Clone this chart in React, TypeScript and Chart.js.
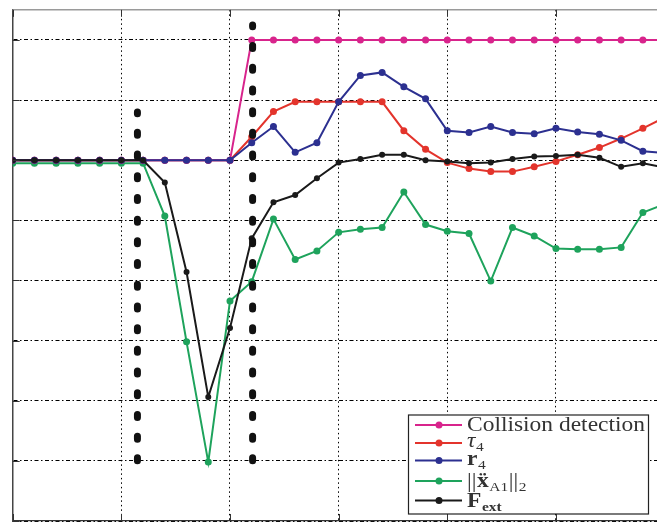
import { useEffect, useRef } from "react";
import { Chart, registerables } from "chart.js";

Chart.register(...registerables);

// ---- data ----
const sampleIndex = [0, 1, 2, 3, 4, 5, 6, 7, 8, 9, 10, 11, 12, 13, 14, 15, 16, 17, 18, 19, 20, 21, 22, 23, 24, 25, 26, 27, 28, 29, 30];

const collisionDetection = [6, 6, 6, 6, 6, 6, 6, 6, 6, 6, 6, 8, 8, 8, 8, 8, 8, 8, 8, 8, 8, 8, 8, 8, 8, 8, 8, 8, 8, 8, 8];
const tau4 = [6, 6, 6, 6, 6, 6, 6, 6, 6, 6, 6, 6.39, 6.81, 6.97, 6.97, 6.97, 6.97, 6.97, 6.49, 6.18, 5.96, 5.86, 5.81, 5.81, 5.89, 5.98, 6.09, 6.21, 6.36, 6.53, 6.71];
const r4 = [6, 6, 6, 6, 6, 6, 6, 6, 6, 6, 6, 6.29, 6.56, 6.13, 6.29, 6.97, 7.41, 7.46, 7.22, 7.02, 6.49, 6.46, 6.56, 6.46, 6.44, 6.53, 6.47, 6.43, 6.33, 6.15, 6.12];
const accelNormA1 = [5.95, 5.95, 5.95, 5.95, 5.95, 5.95, 5.95, 5.07, 2.98, 0.98, 3.66, 3.98, 5.02, 4.35, 4.49, 4.8, 4.85, 4.88, 5.47, 4.93, 4.82, 4.78, 3.99, 4.88, 4.74, 4.53, 4.52, 4.52, 4.55, 5.13, 5.27];
const fExt = [6, 6, 6, 6, 6, 6, 6, 5.63, 4.14, 2.06, 3.21, 4.7, 5.3, 5.42, 5.7, 5.96, 6.02, 6.09, 6.09, 6.0, 5.98, 5.95, 5.96, 6.02, 6.06, 6.07, 6.09, 6.04, 5.89, 5.95, 5.88];

// thick dotted event markers: x position, bottom and top value
const eventMarkerX = [5.74, 11.04];
const eventMarkerBottom = [1.0, 1.0];
const eventMarkerTop = [6.8, 8.25];

const xMin = 0;
const xMax = 30;
const xStep = 5;
const yMin = 0;
const yMax = 8.5;
const yStep = 1;

const seriesLabels = ["Collision detection", "τ4", "r4", "||ẍA1||2", "Fext"];
const seriesColors = ["#d8248c", "#e3342c", "#2c3090", "#1ea35c", "#1a1a1a"];

type Part = { t: string; sub?: boolean; bold?: boolean; italic?: boolean };
const legendParts: Part[][] = [
  [{ t: "Collision detection" }],
  [{ t: "τ", italic: true }, { t: "4", sub: true }],
  [{ t: "r", bold: true }, { t: "4", sub: true }],
  [{ t: "||" }, { t: "ẍ", bold: true }, { t: "A1", sub: true }, { t: "||" }, { t: "2", sub: true }],
  [{ t: "F", bold: true }, { t: "ext", sub: true, bold: true }],
];

const pts = (ys: number[]) => sampleIndex.map((x, i) => ({ x, y: ys[i] }));

const framePlugin = {
  id: "frame",
  beforeDraw(chart: any) {
    const { ctx, width, height } = chart;
    ctx.save();
    ctx.fillStyle = "#ffffff";
    ctx.fillRect(0, 0, width, height);
    ctx.restore();
  },
  afterDraw(chart: any) {
    const { ctx, chartArea: a, scales } = chart;
    ctx.save();
    // top frame line
    ctx.strokeStyle = "#9a9a9a";
    ctx.lineWidth = 1.5;
    ctx.beginPath();
    ctx.moveTo(a.left, a.top);
    ctx.lineTo(a.right, a.top);
    ctx.stroke();
    // inner tick marks
    ctx.strokeStyle = "#333";
    ctx.lineWidth = 1;
    scales.x.ticks.forEach((t: any) => {
      const px = Math.round(scales.x.getPixelForValue(t.value)) + 0.5;
      ctx.beginPath();
      ctx.moveTo(px, a.bottom);
      ctx.lineTo(px, a.bottom - 7);
      ctx.moveTo(px, a.top);
      ctx.lineTo(px, a.top + 7);
      ctx.stroke();
    });
    scales.y.ticks.forEach((t: any) => {
      const py = Math.round(scales.y.getPixelForValue(t.value)) + 0.5;
      ctx.beginPath();
      ctx.moveTo(a.left, py);
      ctx.lineTo(a.left + 7, py);
      ctx.stroke();
    });

    // legend box
    const bx = 408.5, by = 415, bw = 240, bh = 99;
    ctx.fillStyle = "#ffffff";
    ctx.fillRect(bx, by, bw, bh);
    ctx.strokeStyle = "#222";
    ctx.lineWidth = 1.2;
    ctx.strokeRect(bx, by, bw, bh);

    const markerY = [425, 443, 460.5, 481, 500.5];
    const baseY = [431, 446.5, 464.5, 486.5, 506.5];
    const sx = 1.145;
    legendParts.forEach((parts, i) => {
      const c = seriesColors[i];
      ctx.strokeStyle = c;
      ctx.lineWidth = 2;
      ctx.beginPath();
      ctx.moveTo(415, markerY[i]);
      ctx.lineTo(462, markerY[i]);
      ctx.stroke();
      ctx.fillStyle = c;
      ctx.beginPath();
      ctx.arc(439, markerY[i], 3.5, 0, Math.PI * 2);
      ctx.fill();

      ctx.save();
      ctx.translate(467, baseY[i]);
      ctx.scale(sx, 1);
      ctx.fillStyle = "#333";
      ctx.textBaseline = "alphabetic";
      let cx = 0;
      parts.forEach((p) => {
        const size = p.sub ? 13.5 : 20.5;
        ctx.font = `${p.italic ? "italic " : ""}${p.bold ? "bold " : ""}${size}px "Liberation Serif", serif`;
        ctx.fillText(p.t, cx, p.sub ? 4 : 0);
        cx += ctx.measureText(p.t).width + 0.5;
      });
      ctx.restore();
    });
    ctx.restore();
  },
};

export default function App() {
  const ref = useRef<HTMLCanvasElement>(null);
  useEffect(() => {
    document.body.style.margin = "0";
    const canvas = ref.current!;
    const seriesData = [collisionDetection, tau4, r4, accelNormA1, fExt];
    const drawOrder = [3, 4, 2, 5, 1];
    const datasets: any[] = seriesData.map((ys, i) => ({
      label: seriesLabels[i],
      data: pts(ys),
      borderColor: seriesColors[i],
      backgroundColor: seriesColors[i],
      borderWidth: 2,
      pointRadius: i === 4 ? 3 : 3.5,
      pointBorderWidth: 0,
      tension: 0,
      order: drawOrder[i],
    }));
    eventMarkerX.forEach((x, k) => {
      datasets.push({
        label: "event" + k,
        data: [
          { x, y: eventMarkerBottom[k] },
          { x, y: eventMarkerTop[k] },
        ],
        borderColor: "#111",
        borderWidth: 7,
        borderDash: [3, 18.7],
        borderCapStyle: "round",
        pointRadius: 0,
        order: 0,
      });
    });

    const chart = new Chart(canvas, {
      type: "line",
      data: { datasets },
      options: {
        animation: false,
        responsive: false,
        devicePixelRatio: 1,
        layout: { padding: { left: 12.7, top: 9.85, right: 5.4, bottom: 2.4 } },
        plugins: { legend: { display: false }, tooltip: { enabled: false } },
        scales: {
          x: {
            type: "linear",
            min: xMin,
            max: xMax,
            ticks: { display: false, stepSize: xStep },
            grid: { color: "#000", lineWidth: 1, drawTicks: false },
            border: { display: true, color: "#333", width: 1.2, dash: [1.5, 3] },
          },
          y: {
            type: "linear",
            min: yMin,
            max: yMax,
            ticks: { display: false, stepSize: yStep, includeBounds: false },
            grid: { color: "#000", lineWidth: 1, drawTicks: false },
            border: { display: true, color: "#444", width: 1.5, dash: [4, 2.5, 1.5, 2.5] },
          },
        },
      },
      plugins: [framePlugin],
    } as any);
    return () => chart.destroy();
  }, []);
  return (
    <div style={{ position: "fixed", left: 0, top: 0, width: 657, height: 525, overflow: "hidden", background: "#fff" }}>
      <canvas ref={ref} width={670} height={525} style={{ display: "block", width: 670, height: 525 }} />
    </div>
  );
}
